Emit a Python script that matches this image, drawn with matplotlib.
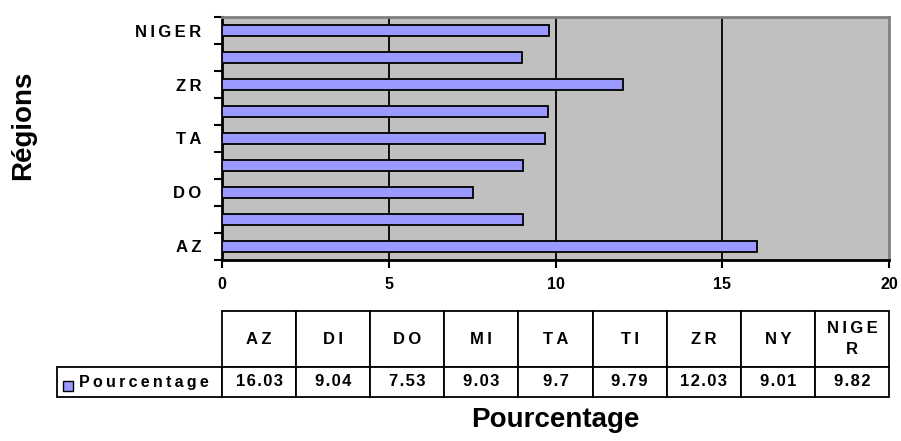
import matplotlib
matplotlib.use('Agg')
import matplotlib.pyplot as plt
from matplotlib.patches import Rectangle

regions = ['AZ', 'DI', 'DO', 'MI', 'TA', 'TI', 'ZR', 'NY', 'NIGER']
pourcentage = [16.03, 9.04, 7.53, 9.03, 9.7, 9.79, 12.03, 9.01, 9.82]
xticks = [0, 5, 10, 15, 20]

bar_color = '#9999FF'
plt.rcParams['font.family'] = ['Liberation Sans', 'DejaVu Sans']
plt.rcParams['font.weight'] = 'bold'

def spaced(s, sep='\u2009'):
    # les libellés Excel sont très espacés
    return sep.join(s)

W, H = 901, 441
fig = plt.figure(figsize=(W / 100, H / 100), dpi=100)
# zone de tracé en pixels : x 222..889, y 17..260
L, R, T, B = 222, 889, 17, 260
ax = fig.add_axes([L / W, (H - B) / H, (R - L) / W, (B - T) / H])
ax.set_facecolor('#C0C0C0')

ypos = list(range(len(regions)))
ax.barh(ypos, pourcentage, height=0.43, color=bar_color, edgecolor='black',
        linewidth=1.3, zorder=3)

ax.set_xlim(0, 20)
ax.set_ylim(-0.5, len(regions) - 0.5)
for v in xticks[1:-1]:
    ax.axvline(v, color='black', lw=1.3, zorder=1)

ax.set_xticks(xticks)
ax.set_xticklabels([str(v) for v in xticks], fontsize=11.5, fontweight='bold')
ax.tick_params(axis='x', direction='out', length=6, width=1.5, pad=6)

# traits aux limites des catégories, étiquettes une sur deux
ax.set_yticks([i - 0.5 for i in range(len(regions) + 1)])
ax.set_yticklabels([])
ax.tick_params(axis='y', which='major', direction='out', length=6, width=1.5)
ax.set_yticks(ypos[::2], minor=True)
ax.set_yticklabels([spaced(r) for r in regions[::2]], minor=True,
                   fontsize=12, fontweight='bold')
ax.tick_params(axis='y', which='minor', length=0, pad=15)

for s in ['left', 'bottom']:
    ax.spines[s].set_color('black')
    ax.spines[s].set_linewidth(2)
for s in ['top', 'right']:
    ax.spines[s].set_color('#808080')
    ax.spines[s].set_linewidth(2)

# tableau de données sous le graphique
TL, TT, TM, TB = 57, 311, 367, 397
hdr = [r if len(r) < 5 else r[:4] + '\n' + r[4:] for r in regions]
hdr = ['\n'.join(spaced(p) for p in h.split('\n')) for h in hdr]
col_w = (R - L) / len(regions)
row = ['  ' + spaced('Pourcentage')] + [spaced(str(v), '\u200a') for v in pourcentage]
tab = ax.table(cellText=[row],
               colLabels=[''] + hdr,
               colWidths=[L - TL] + [col_w] * len(regions),
               cellLoc='center',
               bbox=[(TL - L) / (R - L), (B - TB) / (B - T),
                     (R - TL) / (R - L), (TB - TT) / (B - T)])
tab.auto_set_font_size(False)
tab.set_fontsize(12)
for (r, c), cell in tab.get_celld().items():
    cell.set_linewidth(1.3)
    cell.set_height((TM - TT) if r == 0 else (TB - TM))
    cell.get_text().set_fontweight('bold')
    cell.get_text().set_linespacing(1.5)
tab[0, 0].set_visible(False)
tab[1, 0]._loc = 'left'
tab[1, 0].get_text().set_fontsize(11.5)

# carré de légende
ax.add_patch(Rectangle(((63 - L) / (R - L), (B - 391) / (B - T)),
                       10 / (R - L), 10 / (B - T), transform=ax.transAxes,
                       facecolor=bar_color, edgecolor='black', lw=1,
                       clip_on=False, zorder=5))

fig.text(23 / W, 1 - 125 / H, 'Régions', rotation=90, ha='center',
         va='center', fontsize=20, fontweight='bold')
fig.text(555 / W, 1 - 420 / H, 'Pourcentage', ha='center', va='center',
         fontsize=20, fontweight='bold')

fig.savefig('out.png', dpi=100)
